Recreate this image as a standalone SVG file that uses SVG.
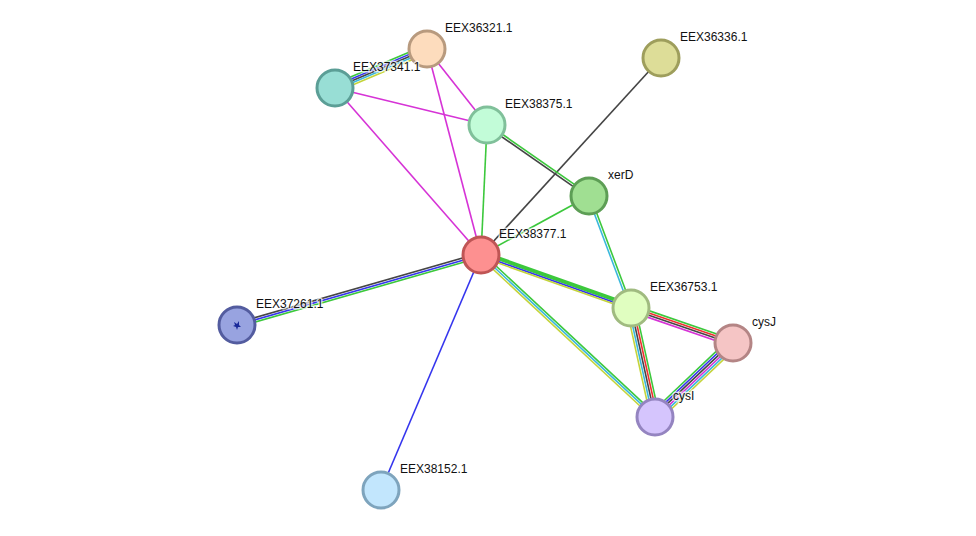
<svg xmlns="http://www.w3.org/2000/svg" width="976" height="536" viewBox="0 0 976 536">
<style>
.e{stroke-width:1.6;fill:none}
.g{stroke:#3cc83c}.b{stroke:#3535ee}.k{stroke:#454545}.c{stroke:#3ab8dc}.y{stroke:#c4d43a}.m{stroke:#d633d6}.r{stroke:#ee3030}
.n{stroke-width:3}
.t{font-family:"Liberation Sans",Arial,sans-serif;font-size:12px;fill:#111;paint-order:stroke;stroke:#fff;stroke-width:3;stroke-opacity:0.7;stroke-linejoin:round}
</style>
<rect width="976" height="536" fill="#fff"/>
<g id="edges">
  <!-- single edges -->
  <line class="e m" x1="335" y1="88" x2="487" y2="125"/>
  <line class="e m" x1="335" y1="88" x2="481" y2="255"/>
  <line class="e m" x1="427" y1="49" x2="487" y2="125"/>
  <line class="e m" x1="427" y1="49" x2="481" y2="255"/>
  <line class="e g" x1="487" y1="125" x2="481" y2="255"/>
  <line class="e k" x1="661" y1="58" x2="481" y2="255"/>
  <line class="e g" x1="589" y1="196" x2="481" y2="255"/>
  <line class="e b" x1="481" y1="255" x2="381" y2="490"/>
  <!-- EEX37341.1 - EEX36321.1 -->
  <g transform="translate(335,88) rotate(-22.97)">
    <line class="e g" x1="0" y1="-4" x2="100" y2="-4"/>
    <line class="e b" x1="0" y1="-2" x2="100" y2="-2"/>
    <line class="e k" x1="0" y1="0" x2="100" y2="0"/>
    <line class="e c" x1="0" y1="2" x2="100" y2="2"/>
    <line class="e y" x1="0" y1="4" x2="100" y2="4"/>
  </g>
  <!-- EEX38375.1 - xerD -->
  <g transform="translate(487,125) rotate(34.84)">
    <line class="e g" x1="0" y1="-1.2" x2="124" y2="-1.2"/>
    <line class="e k" x1="0" y1="1.2" x2="124" y2="1.2"/>
  </g>
  <!-- EEX37261.1 - EEX38377.1 -->
  <g transform="translate(237,325) rotate(-16.01)">
    <line class="e k" x1="0" y1="-2.2" x2="254" y2="-2.2"/>
    <line class="e b" x1="0" y1="0" x2="254" y2="0"/>
    <line class="e g" x1="0" y1="2.2" x2="254" y2="2.2"/>
  </g>
  <!-- EEX38377.1 - EEX36753.1 -->
  <g transform="translate(481,255) rotate(19.46)">
    <line class="e g" style="stroke-width:4" x1="0" y1="-2.6" x2="159" y2="-2.6"/>
    <line class="e b" x1="0" y1="0.3" x2="159" y2="0.3"/>
    <line class="e y" x1="0" y1="1.9" x2="159" y2="1.9"/>
  </g>
  <!-- EEX38377.1 - cysI -->
  <g transform="translate(481,255) rotate(42.95)">
    <line class="e g" x1="0" y1="-2.2" x2="238" y2="-2.2"/>
    <line class="e c" x1="0" y1="0" x2="238" y2="0"/>
    <line class="e y" x1="0" y1="2.2" x2="238" y2="2.2"/>
  </g>
  <!-- xerD - EEX36753.1 -->
  <g transform="translate(589,196) rotate(69.44)">
    <line class="e g" x1="0" y1="-1.2" x2="120" y2="-1.2"/>
    <line class="e c" x1="0" y1="1.2" x2="120" y2="1.2"/>
  </g>
  <!-- EEX36753.1 - cysJ -->
  <g transform="translate(631,308) rotate(18.94)">
    <line class="e g" x1="0" y1="-3.3" x2="108" y2="-3.3"/>
    <line class="e r" x1="0" y1="-1.1" x2="108" y2="-1.1"/>
    <line class="e k" x1="0" y1="1.1" x2="108" y2="1.1"/>
    <line class="e m" x1="0" y1="3.3" x2="108" y2="3.3"/>
  </g>
  <!-- EEX36753.1 - cysI -->
  <g transform="translate(631,308) rotate(77.58)">
    <line class="e g" x1="0" y1="-4.4" x2="112" y2="-4.4"/>
    <line class="e r" x1="0" y1="-2.2" x2="112" y2="-2.2"/>
    <line class="e k" x1="0" y1="0" x2="112" y2="0"/>
    <line class="e c" x1="0" y1="2.2" x2="112" y2="2.2"/>
    <line class="e y" x1="0" y1="4.4" x2="112" y2="4.4"/>
  </g>
  <!-- cysI - cysJ -->
  <g transform="translate(655,417) rotate(-43.49)">
    <line class="e g" x1="0" y1="-5.5" x2="108" y2="-5.5"/>
    <line class="e b" x1="0" y1="-3.3" x2="108" y2="-3.3"/>
    <line class="e k" x1="0" y1="-1.1" x2="108" y2="-1.1"/>
    <line class="e m" x1="0" y1="1.1" x2="108" y2="1.1"/>
    <line class="e c" x1="0" y1="3.3" x2="108" y2="3.3"/>
    <line class="e y" x1="0" y1="5.5" x2="108" y2="5.5"/>
  </g>
</g>
<g id="EEX36321.1"><circle class="n" cx="427" cy="49" r="18" fill="#fddcbd" stroke="#b89a7e"/><text class="t" x="445" y="32">EEX36321.1</text></g>
<g id="EEX37341.1"><circle class="n" cx="335" cy="88" r="18" fill="#98ded5" stroke="#5b9e96"/><text class="t" x="353" y="71">EEX37341.1</text></g>
<g id="EEX36336.1"><circle class="n" cx="661" cy="58" r="18" fill="#dddd98" stroke="#9e9e5c"/><text class="t" x="680" y="41">EEX36336.1</text></g>
<g id="EEX38375.1"><circle class="n" cx="487" cy="125" r="18" fill="#c2fcd8" stroke="#80c09a"/><text class="t" x="505" y="108">EEX38375.1</text></g>
<g id="xerD"><circle class="n" cx="589" cy="196" r="18" fill="#a0df92" stroke="#5d9e55"/><text class="t" x="608" y="179">xerD</text></g>
<g id="EEX38377.1"><circle class="n" cx="481" cy="255" r="18" fill="#fd9090" stroke="#bf5555"/><text class="t" x="499" y="238">EEX38377.1</text></g>
<g id="EEX37261.1"><circle class="n" cx="237" cy="325" r="18" fill="#98a3e0" stroke="#535c9f"/><path d="M234 322l3 2 2-3 0 4 2 2-3 0-1 3-1-3-3-1 2-1z" fill="#1a2a9a"/><text class="t" x="256" y="308">EEX37261.1</text></g>
<g id="EEX36753.1"><circle class="n" cx="631" cy="308" r="18" fill="#e0fec0" stroke="#a0bb80"/><text class="t" x="650" y="291">EEX36753.1</text></g>
<g id="cysJ"><circle class="n" cx="733" cy="343" r="18" fill="#f5c5c5" stroke="#b48585"/><text class="t" x="752" y="326">cysJ</text></g>
<g id="cysI"><circle class="n" cx="655" cy="417" r="18" fill="#d5c5fd" stroke="#9484c0"/><text class="t" x="673" y="400">cysI</text></g>
<g id="EEX38152.1"><circle class="n" cx="381" cy="490" r="18" fill="#c2e6fd" stroke="#7ea4bd"/><text class="t" x="400" y="473">EEX38152.1</text></g>
</svg>
